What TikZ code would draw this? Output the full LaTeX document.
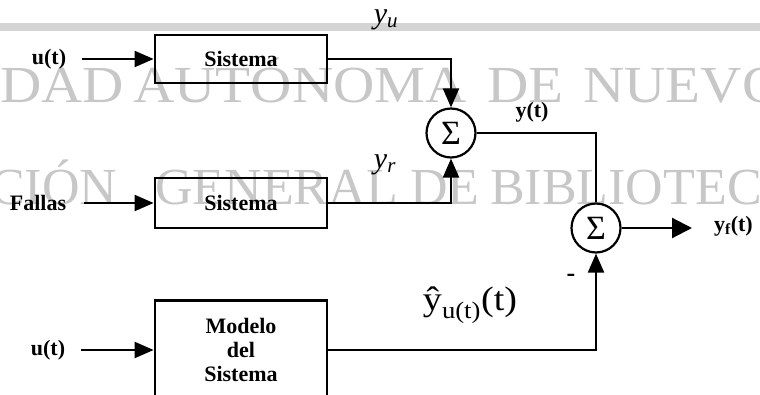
\documentclass[tikz,border=0pt]{standalone}
\usepackage{fontspec}
\setmainfont{Liberation Serif}
\usetikzlibrary{arrows.meta}
\begin{document}
\begin{tikzpicture}[x=1pt,y=-1pt,
  wire/.style={line width=2.2pt},
  arr/.style={wire,-{Triangle[length=19pt,width=16pt]}},
  bigarr/.style={wire,-{Triangle[length=20pt,width=20pt]}},
  blk/.style={draw,line width=2.8pt,minimum width=172pt,minimum height=48pt,inner sep=0pt,align=center,font=\fontsize{22}{24}\selectfont\bfseries},
  sumn/.style={draw,circle,line width=2.2pt,minimum size=49pt,inner sep=0pt,font=\fontsize{34}{34}\selectfont},
  lbl/.style={font=\fontsize{22}{24}\selectfont\bfseries,inner sep=0pt},
  mlbl/.style={font=\fontsize{30}{30}\selectfont,inner sep=0pt},
  wm/.style={text=black!22,font=\fontsize{52}{52}\selectfont,anchor=base west,inner sep=0pt},
  wma/.style={wm,xscale=1.1}]
\useasboundingbox (0,0) rectangle (760,395);
% header band
\fill[black!17] (0,23) rectangle (760,31);
% watermark
\node[wma] (w1) at (0,103) {DAD};
\node[wma] (w2) at (133,103) {AUTÓNOMA};
\node[wma] (w3) at (487,103) {DE};
\node[wma] (w4) at (583,103) {NUEVO};
\node[wm] (w5) at (-10,205) {CIÓN};
\node[wm] (w6) at (155,205) {GENERAL};
\node[wm] (w7) at (410,205) {DE};
\node[wm] (w8) at (490,205) {BIBLIOTEC};
% blocks
\node[blk] (s1) at (241,59) {Sistema};
\node[blk,minimum height=50pt] (s2) at (241,203) {Sistema};
\node[blk,minimum height=99pt] (m) at (241,350) {Modelo\\del\\Sistema};
% summing junctions
\node[sumn] (S1) at (451,133) {Σ};
\node[sumn] (S2) at (596,228) {Σ};
% input labels
\node[lbl] (u1) at (49,59) {u(t)};
\node[lbl] (fa) at (38,203) {Fallas};
\node[lbl] (u2) at (48,350) {u(t)};
% signal labels
\node[mlbl] (yu) at (386,20) {\textit{y}\textsubscript{\textit{u}}};
\node[mlbl] (yr) at (385,165) {\textit{y}\textsubscript{\textit{r}}};
\node[lbl] (yt) at (532,112) {y(t)};
\node[lbl,anchor=west] (yf) at (714,226) {y\textsubscript{f}(t)};
\node[font=\fontsize{26}{26}\selectfont\bfseries,inner sep=0pt] (minus) at (571,278) {-};
\node[font=\fontsize{34}{34}\selectfont,inner sep=0pt,xscale=1.12] (yh) at (470,305) {ŷ\textsubscript{u(t)}(t)};
\coordinate (out) at (692,228);
% connectors
\draw[arr,shorten <=16pt] (u1.east) -- (s1.west);
\draw[arr,shorten <=18pt] (fa.east) -- (s2.west);
\draw[arr,shorten <=16pt] (u2.east) -- (m.west);
\draw[arr] (s1.east) -| (S1.north);
\draw[arr] (s2.east) -| (S1.south);
\draw[wire] (S1.east) -| (S2.north);
\draw[arr] (m.east) -| (S2.south);
\draw[bigarr] (S2.east) -- (out);
\end{tikzpicture}
\end{document}
